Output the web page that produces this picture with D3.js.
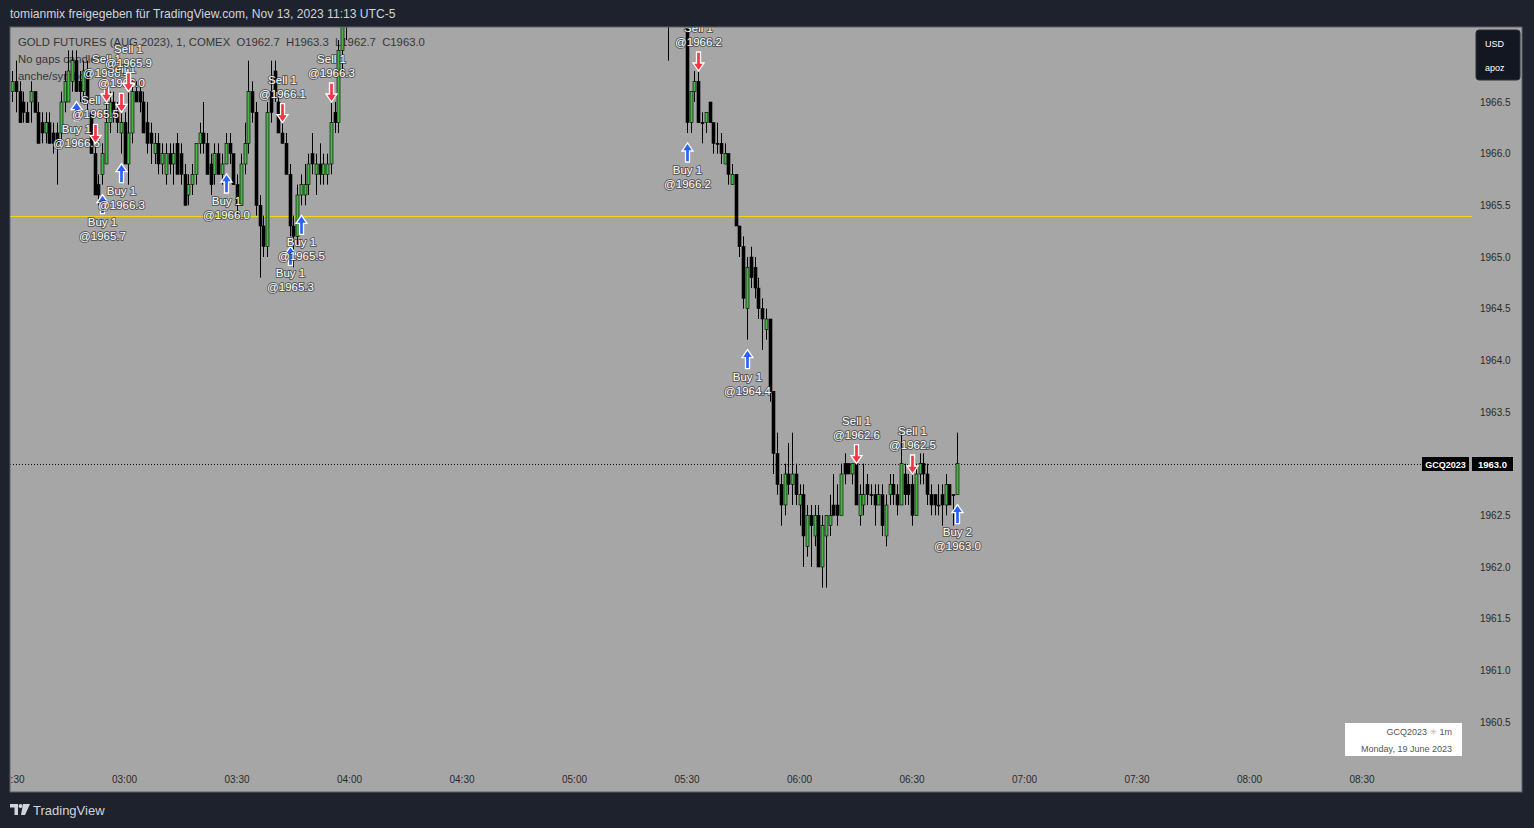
<!DOCTYPE html>
<html>
<head>
<meta charset="utf-8">
<script src="https://cdn.jsdelivr.net/npm/d3@7/dist/d3.min.js"></script>
<style>
  html, body { margin: 0; padding: 0; background: #1e222d; }
  svg { display: block; }
  text { font-family: "Liberation Sans", "DejaVu Sans", sans-serif; }
</style>
</head>
<body>
<svg id="chart"></svg>
<script>
// 1 minute bars [open, high, low, close]
var bars0230 = [
  [1966.6,1966.8,1966.5,1966.7],[1966.7,1966.9,1966.4,1966.6],[1966.6,1966.7,1966.3,1966.3],[1966.5,1966.6,1966.3,1966.4],
  [1966.4,1966.5,1966.3,1966.3],[1966.5,1966.7,1966.3,1966.6],[1966.6,1966.6,1966.4,1966.4],[1966.4,1966.5,1966.1,1966.1],
  [1966.3,1966.4,1966.1,1966.2],[1966.2,1966.4,1966.1,1966.3],[1966.3,1966.4,1966.1,1966.1],[1966.2,1966.3,1966.0,1966.1],
  [1966.2,1966.3,1965.7,1966.1],[1966.2,1966.6,1966.1,1966.5],[1966.5,1966.8,1966.4,1966.7],[1966.5,1967.0,1966.5,1966.8],
  [1966.7,1967.0,1966.6,1966.9],[1966.9,1967.0,1966.6,1966.6],[1966.7,1966.8,1966.5,1966.6],[1966.6,1966.9,1966.5,1966.8],
  [1966.8,1966.9,1966.4,1966.5],[1966.4,1966.4,1966.0,1966.0],[1966.0,1966.1,1965.6,1965.6],[1965.7,1965.8,1965.5,1965.6],
  [1965.8,1966.1,1965.7,1966.0],[1965.9,1966.5,1965.9,1966.3],[1966.3,1966.6,1966.2,1966.5],[1966.5,1966.6,1966.3,1966.4],
  [1966.4,1966.5,1966.2,1966.3],[1966.2,1966.4,1966.0,1966.3],[1966.3,1966.4,1965.9,1965.9],[1965.9,1966.6,1965.7,1966.2],
  [1966.2,1966.7,1966.1,1966.6],[1966.6,1966.7,1966.5,1966.5],[1966.6,1966.7,1966.4,1966.5],[1966.5,1966.6,1966.2,1966.2],
  [1966.3,1966.5,1966.0,1966.1],[1966.2,1966.3,1965.9,1966.1],[1966.0,1966.2,1965.9,1966.1],[1966.1,1966.2,1965.8,1965.9],
  [1965.9,1966.1,1965.8,1966.0],[1965.8,1966.1,1965.7,1966.0],[1966.0,1966.1,1965.8,1965.9],[1965.9,1966.1,1965.7,1966.0],
  [1966.1,1966.2,1965.8,1965.8],[1966.0,1966.1,1965.7,1965.8],[1965.8,1965.9,1965.5,1965.5],[1965.6,1965.8,1965.5,1965.7],
  [1965.7,1965.9,1965.6,1965.8],[1965.8,1966.1,1965.7,1966.1],[1966.1,1966.3,1966.0,1966.2],[1966.2,1966.5,1966.0,1966.1],
  [1966.1,1966.2,1965.8,1965.8],[1965.9,1966.0,1965.6,1965.7],[1965.8,1966.1,1965.7,1966.0],[1966.0,1966.1,1965.8,1965.8],
  [1965.8,1966.0,1965.7,1965.9],[1965.9,1966.2,1965.9,1966.1],[1966.1,1966.2,1965.9,1966.0],[1966.0,1966.0,1965.7,1965.7],
  [1965.7,1965.8,1965.4,1965.5],[1965.5,1966.0,1965.5,1965.9],[1965.9,1966.3,1965.8,1966.1],[1966.1,1966.9,1966.0,1966.6],
  [1966.6,1966.7,1966.3,1966.4],[1966.4,1966.5,1965.4,1965.5],[1965.5,1965.6,1964.8,1965.3],[1965.3,1965.4,1965.0,1965.1],
  [1965.1,1966.5,1965.0,1966.4],[1966.6,1966.9,1966.3,1966.4],[1966.8,1966.9,1966.5,1966.6],[1966.5,1966.6,1966.2,1966.2],
  [1966.2,1966.3,1966.1,1966.1],[1966.1,1966.2,1965.8,1965.8],[1965.8,1965.9,1965.2,1965.3],[1965.3,1965.4,1964.9,1965.2],
  [1965.2,1965.7,1965.1,1965.6],[1965.6,1965.8,1965.5,1965.7],[1965.6,1965.9,1965.5,1965.7],[1965.7,1966.0,1965.6,1965.9],
  [1966.0,1966.2,1965.8,1965.9],[1965.8,1966.0,1965.6,1965.9],[1965.9,1966.1,1965.7,1965.8],[1965.8,1966.0,1965.7,1965.9],
  [1965.8,1966.0,1965.7,1965.9],[1965.9,1966.5,1965.8,1966.3],[1966.4,1966.5,1966.2,1966.3],[1966.3,1967.1,1966.2,1967.0],
  [1967.0,1967.5,1966.8,1967.4],[1967.3,1967.8,1967.1,1967.7]
];
var bars0525 = [
  [1967.6,1967.9,1966.9,1967.5]
];
var bars0530 = [
  [1967.4,1967.6,1966.2,1966.3],[1966.3,1966.6,1966.2,1966.6],[1966.6,1966.8,1966.5,1966.7],[1966.7,1966.8,1966.3,1966.3],
  [1966.3,1966.4,1966.1,1966.3],[1966.3,1966.4,1966.2,1966.4],[1966.5,1966.5,1966.3,1966.3],[1966.3,1966.3,1966.0,1966.1],
  [1966.1,1966.3,1966.0,1966.1],[1966.1,1966.2,1965.9,1966.0],[1965.9,1966.1,1965.9,1966.0],[1966.0,1966.0,1965.7,1965.8],
  [1965.7,1965.9,1965.7,1965.8],[1965.8,1965.8,1965.3,1965.3],[1965.3,1965.3,1965.0,1965.1],[1965.1,1965.2,1964.5,1964.6],
  [1964.5,1965.0,1964.2,1964.9],[1965.0,1965.1,1964.7,1964.8],[1964.9,1965.0,1964.6,1964.7],[1964.7,1964.8,1964.4,1964.5],
  [1964.5,1964.6,1964.1,1964.4],[1964.3,1964.5,1964.2,1964.4],[1964.4,1964.4,1963.6,1963.7],[1963.7,1963.7,1962.9,1963.1],
  [1963.1,1963.3,1962.7,1962.8],[1962.8,1962.9,1962.4,1962.6],[1962.6,1963.0,1962.5,1962.9],[1962.9,1963.2,1962.7,1962.8],
  [1962.8,1963.3,1962.6,1962.9],[1962.9,1963.0,1962.6,1962.7],[1962.6,1962.8,1962.4,1962.7],[1962.7,1962.8,1962.0,1962.3],
  [1962.2,1962.6,1962.1,1962.5],[1962.5,1962.6,1962.0,1962.4],[1962.3,1962.6,1962.2,1962.5],[1962.5,1962.6,1962.0,1962.0],
  [1962.0,1962.5,1961.8,1962.4],[1962.3,1962.5,1961.8,1962.5],[1962.4,1962.7,1962.3,1962.5],[1962.6,1962.9,1962.5,1962.5],
  [1962.6,1962.8,1962.4,1962.5],[1962.5,1963.0,1962.5,1962.9],[1963.0,1963.1,1962.8,1962.9],[1963.0,1963.0,1962.9,1962.9],
  [1962.9,1963.0,1962.8,1963.0],[1963.0,1963.0,1962.6,1962.6],[1962.5,1962.8,1962.4,1962.7],[1962.6,1963.0,1962.5,1962.7],
  [1962.8,1962.9,1962.6,1962.7],[1962.7,1962.8,1962.6,1962.7],[1962.7,1962.8,1962.4,1962.6],[1962.6,1962.8,1962.6,1962.7],
  [1962.7,1962.8,1962.3,1962.4],[1962.3,1962.7,1962.2,1962.6],[1962.7,1962.9,1962.6,1962.8],[1962.8,1962.9,1962.6,1962.7],
  [1962.7,1962.8,1962.5,1962.6],[1962.6,1963.3,1962.6,1963.0],[1962.9,1963.0,1962.6,1962.7],[1962.8,1962.9,1962.6,1962.7],
  [1962.8,1962.9,1962.4,1962.5],[1962.5,1963.0,1962.5,1962.9],[1962.9,1963.1,1962.8,1963.0],[1963.0,1963.1,1962.8,1962.9],
  [1962.9,1963.0,1962.6,1962.7],[1962.7,1962.8,1962.5,1962.6],[1962.7,1962.7,1962.5,1962.6],[1962.6,1962.8,1962.5,1962.6],
  [1962.7,1962.8,1962.4,1962.6],[1962.6,1962.9,1962.5,1962.8],[1962.8,1962.8,1962.6,1962.6],[1962.7,1962.7,1962.4,1962.7],
  [1962.7,1963.3,1962.7,1963.0]
];

// strategy fills
var tradeTimes  = ["02:47","02:52","02:54","02:55","02:59","02:59","03:01","03:27","03:42","03:44","03:47","03:55","05:30","05:33","05:46","06:15","06:30","06:42"];
var tradeSides  = ["Buy","Sell","Buy","Sell","Sell","Buy","Sell","Buy","Sell","Buy","Buy","Sell","Buy","Sell","Buy","Sell","Sell","Buy"];
var tradeQty    = [1,1,1,1,1,1,1,1,1,1,1,1,1,1,1,1,1,2];
var tradePrices = ["1966.6","1965.5","1965.7","1966.4","1966.0","1966.3","1965.9","1966.0","1966.1","1965.3","1965.5","1966.3","1966.2","1966.2","1964.4","1962.6","1962.5","1963.0"];

var priceTicks = [1960.5,1961.0,1961.5,1962.0,1962.5,1963.0,1963.5,1964.0,1964.5,1965.0,1965.5,1966.0,1966.5];
var timeTicks = ["02:30","03:00","03:30","04:00","04:30","05:00","05:30","06:00","06:30","07:00","07:30","08:00","08:30"];
var levelPrice = 1965.4;
var lastPrice = 1963.0;
var symbol = "GCQ2023";
var day = "2023-06-19";

var W = 1534, H = 828;
var panel = {left: 10, top: 27, right: 1522, bottom: 792};

var parse = d3.timeParse("%Y-%m-%d %H:%M");
var fmt = d3.format(".1f");

var candles = [];
function addBlock(start, arr) {
  var t0 = parse(day + " " + start);
  arr.forEach(function(b, i) {
    candles.push({t: d3.timeMinute.offset(t0, i), o: b[0], h: b[1], l: b[2], c: b[3]});
  });
}
addBlock("02:30", bars0230);
addBlock("05:25", bars0525);
addBlock("05:30", bars0530);

var x = d3.scaleTime()
  .domain([parse(day + " 02:30"), parse(day + " 08:30")])
  .range([12, 1362]);
var y = d3.scaleLinear()
  .domain([1960.5, 1966.5])
  .range([722, 102]);

var svg = d3.select("#chart").attr("width", W).attr("height", H);

svg.append("rect").attr("width", W).attr("height", H).attr("fill", "#1e222d");

// header
svg.append("text")
  .attr("x", 10).attr("y", 18)
  .attr("fill", "#d1d4dc").attr("font-size", 12.1)
  .text("tomianmix freigegeben für TradingView.com, Nov 13, 2023 11:13 UTC-5");

// panel
svg.append("rect")
  .attr("x", panel.left).attr("y", panel.top)
  .attr("width", panel.right - panel.left).attr("height", panel.bottom - panel.top)
  .attr("fill", "#a6a6a6").attr("stroke", "#5d606b").attr("stroke-width", 1);

svg.append("defs").append("clipPath").attr("id", "clip")
  .append("rect")
  .attr("x", panel.left + 0.5).attr("y", panel.top + 0.5)
  .attr("width", panel.right - panel.left - 1).attr("height", panel.bottom - panel.top - 1);

var plot = svg.append("g").attr("clip-path", "url(#clip)");

// legend
var legend = plot.append("g").attr("fill", "#363636").attr("font-size", 11.3);
legend.append("text").attr("x", 18).attr("y", 45.5)
  .style("white-space", "pre")
  .text("GOLD FUTURES (AUG 2023), 1, COMEX  O1962.7  H1963.3  L1962.7  C1963.0");
legend.append("text").attr("x", 18).attr("y", 63).text("No gaps candles");
legend.append("text").attr("x", 18).attr("y", 80).text("anche/symbol");

// horizontal level
plot.append("line")
  .attr("x1", panel.left).attr("x2", 1472)
  .attr("y1", Math.round(y(levelPrice)) + 0.5).attr("y2", Math.round(y(levelPrice)) + 0.5)
  .attr("stroke", "#f7d417").attr("stroke-width", 1);

// last price dotted line
plot.append("line")
  .attr("x1", panel.left).attr("x2", 1422)
  .attr("y1", Math.round(y(lastPrice)) + 0.5).attr("y2", Math.round(y(lastPrice)) + 0.5)
  .attr("stroke", "#111").attr("stroke-width", 1).attr("stroke-dasharray", "1,2");

// candles
var bw = 3;
var cg = plot.append("g");
cg.selectAll("line.wick").data(candles).enter().append("line")
  .attr("class", "wick")
  .attr("x1", function(d) { return Math.round(x(d.t)) + 0.5; })
  .attr("x2", function(d) { return Math.round(x(d.t)) + 0.5; })
  .attr("y1", function(d) { return y(d.h); })
  .attr("y2", function(d) { return y(d.l); })
  .attr("stroke", "#000").attr("stroke-width", 1);
cg.selectAll("rect.body").data(candles).enter().append("rect")
  .attr("class", "body")
  .attr("x", function(d) { return Math.round(x(d.t)) - 1; })
  .attr("width", bw)
  .attr("y", function(d) { return y(Math.max(d.o, d.c)); })
  .attr("height", function(d) { return Math.max(1, Math.abs(y(d.o) - y(d.c))); })
  .attr("fill", function(d) { return d.c > d.o ? "#45b345" : "#000"; })
  .attr("stroke", "#000").attr("stroke-width", 0.6);

// trade markers
var byTime = {};
candles.forEach(function(d) { byTime[d3.timeFormat("%H:%M")(d.t)] = d; });

var upArrow = "M0,0 L-5.5,8 L-2,8 L-2,19 L2,19 L2,8 L5.5,8 Z";
var downArrow = "M0,0 L-5.5,-8 L-2,-8 L-2,-19 L2,-19 L2,-8 L5.5,-8 Z";

var tg = plot.append("g");
tradeTimes.forEach(function(tm, i) {
  var bar = byTime[tm];
  var cx = Math.round(x(bar.t)) + 0.5;
  var g = tg.append("g");
  if (tradeSides[i] == "Sell") {
    var yh = y(bar.h);
    g.append("path").attr("d", downArrow)
      .attr("transform", "translate(" + cx + "," + yh + ")")
      .attr("fill", "#f23645").attr("stroke", "#fff").attr("stroke-width", 1.3);
    g.append("text").attr("x", cx).attr("y", yh - 39).text("Sell " + tradeQty[i]);
    g.append("text").attr("x", cx).attr("y", yh - 25).text("@" + tradePrices[i]);
  } else {
    var yl = y(bar.l);
    g.append("path").attr("d", upArrow)
      .attr("transform", "translate(" + cx + "," + (yl + 10) + ")")
      .attr("fill", "#2962ff").attr("stroke", "#fff").attr("stroke-width", 1.3);
    g.append("text").attr("x", cx).attr("y", yl + 41).text("Buy " + tradeQty[i]);
    g.append("text").attr("x", cx).attr("y", yl + 55).text("@" + tradePrices[i]);
  }
  g.selectAll("text")
    .attr("text-anchor", "middle").attr("font-size", 11.5)
    .attr("fill", "#fff").attr("stroke", "rgba(40,40,40,0.6)").attr("stroke-width", 2)
    .attr("paint-order", "stroke").attr("stroke-linejoin", "round");
});

// price axis labels (the last price tag covers its own level)
svg.append("g").selectAll("text")
  .data(priceTicks.filter(function(d) { return Math.abs(y(d) - y(lastPrice)) > 10; }))
  .enter().append("text")
  .attr("x", 1480).attr("y", function(d) { return y(d) + 3.5; })
  .attr("font-size", 10).attr("fill", "#2a2a2a")
  .text(function(d) { return fmt(d); });

// time axis labels
plot.append("g").selectAll("text").data(timeTicks).enter().append("text")
  .attr("x", function(d) { return x(parse(day + " " + d)); })
  .attr("y", 783)
  .attr("text-anchor", "middle").attr("font-size", 10).attr("fill", "#2a2a2a")
  .text(function(d) { return d; });

// currency / unit box
svg.append("rect").attr("x", 1476).attr("y", 30).attr("width", 44).attr("height", 50)
  .attr("rx", 3).attr("fill", "#131722").attr("stroke", "#2a2e39");
svg.append("text").attr("x", 1485).attr("y", 47).attr("fill", "#fff").attr("font-size", 9).text("USD");
svg.append("text").attr("x", 1485).attr("y", 71).attr("fill", "#fff").attr("font-size", 9).text("apoz");

// last price tags
var ly = Math.round(y(lastPrice));
svg.append("rect").attr("x", 1422).attr("y", ly - 7).attr("width", 47).attr("height", 14).attr("fill", "#000");
svg.append("text").attr("x", 1445.5).attr("y", ly + 3.5).attr("text-anchor", "middle")
  .attr("font-size", 9).attr("font-weight", "bold").attr("fill", "#fff").text(symbol);
svg.append("rect").attr("x", 1472).attr("y", ly - 7).attr("width", 41).attr("height", 14).attr("fill", "#000");
svg.append("text").attr("x", 1492.5).attr("y", ly + 3.5).attr("text-anchor", "middle")
  .attr("font-size", 9.5).attr("font-weight", "bold").attr("fill", "#fff").text(fmt(lastPrice));

// info box
svg.append("rect").attr("x", 1345).attr("y", 723).attr("width", 117).attr("height", 33).attr("fill", "#fff");
var info = svg.append("text").attr("x", 1452).attr("y", 735).attr("text-anchor", "end")
  .attr("font-size", 9).attr("fill", "#555");
info.append("tspan").text(symbol + " ");
info.append("tspan").attr("fill", "#bbb").text("✳");
info.append("tspan").text(" 1m");
svg.append("text").attr("x", 1452).attr("y", 752).attr("text-anchor", "end")
  .attr("font-size", 9).attr("fill", "#555").text("Monday, 19 June 2023");

// footer logo
var logo = svg.append("g").attr("transform", "translate(10,804)").attr("fill", "#d1d4dc");
logo.append("path").attr("d", "M0,0 H8 V11 H4.5 V3.5 H0 Z");
logo.append("circle").attr("cx", 10.5).attr("cy", 2).attr("r", 2);
logo.append("path").attr("d", "M13,0 H20 L15,11 H11 Z");
svg.append("text").attr("x", 33).attr("y", 815).attr("fill", "#d1d4dc").attr("font-size", 13)
  .text("TradingView");
</script>
</body>
</html>
